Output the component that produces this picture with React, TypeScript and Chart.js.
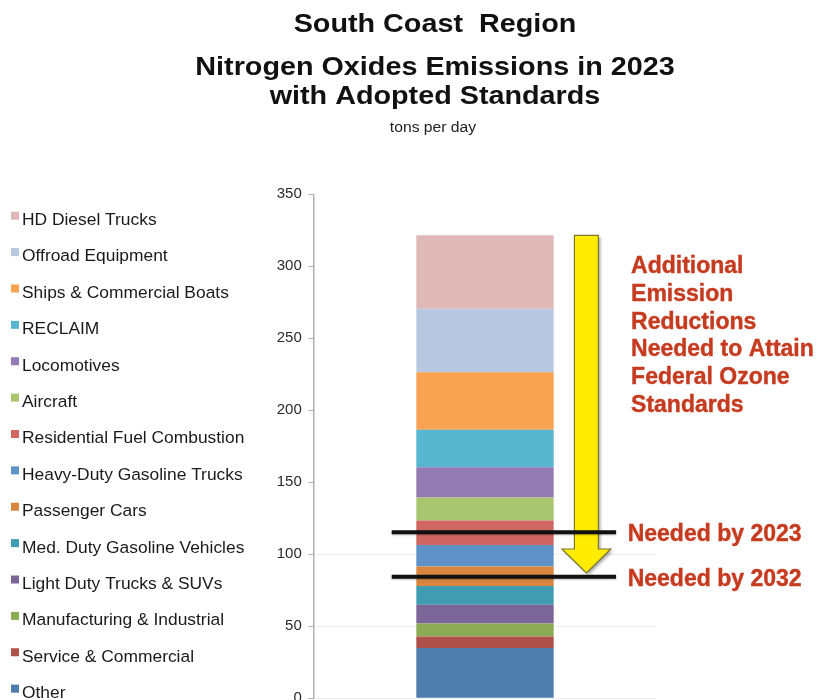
import React, { useEffect, useRef } from "react";
import { Chart, registerables } from "chart.js";

Chart.register(...registerables);

// ---- Data (bottom of stack first) ----
const categories = ["2023"];
const sourceLabels = [
  "Other",
  "Service & Commercial",
  "Manufacturing & Industrial",
  "Light Duty Trucks & SUVs",
  "Med. Duty Gasoline Vehicles",
  "Passenger Cars",
  "Heavy-Duty Gasoline Trucks",
  "Residential Fuel Combustion",
  "Aircraft",
  "Locomotives",
  "RECLAIM",
  "Ships & Commercial Boats",
  "Offroad Equipment",
  "HD Diesel Trucks",
];
const sourceValues = [35, 8, 9, 13, 13, 13.5, 15, 17, 16, 21, 26, 40, 44, 51];
const sourceColors = [
  "#4f7dae",
  "#b0504a",
  "#8daa57",
  "#7b6699",
  "#409cb1",
  "#d9873f",
  "#5f93c8",
  "#cf6662",
  "#a9c56f",
  "#957bb3",
  "#58b7cf",
  "#f9a352",
  "#b8c8e1",
  "#dfb8b8",
];
const titleLines = ["South Coast  Region", "Nitrogen Oxides Emissions in 2023", "with Adopted Standards"];
const subtitleText = "tons per day";
const reductionNote = ["Additional", "Emission", "Reductions", "Needed to Attain", "Federal Ozone", "Standards"];
const targetLabels = ["Needed by 2023", "Needed by 2032"];
const targetValues = [115.3, 84.4];
const arrowEndValue = 87;
const yMin = 0;
const yMax = 350;
const yStep = 50;

const FONT = "'Liberation Sans', Arial, Helvetica, sans-serif";
const RED = "#c63b1f";

const overlayPlugin = {
  id: "overlay",
  afterDatasetsDraw(chart: any) {
    const ctx: CanvasRenderingContext2D = chart.ctx;
    const y = chart.scales.y;
    const n = chart.data.datasets.length;
    const bar: any = chart.getDatasetMeta(n - 1).data[0];
    const barLeft = bar.x - bar.width / 2;
    const barRight = bar.x + bar.width / 2;
    const total = sourceValues.reduce((a, b) => a + b, 0);

    // Yellow arrow
    const cx = barRight + 32.7;
    const shaftHalf = 12;
    const headHalf = 24.5;
    const headLen = 24;
    const yTop = y.getPixelForValue(total);
    const yTip = y.getPixelForValue(arrowEndValue);
    const yBase = yTip - headLen;
    ctx.save();
    ctx.shadowColor = "rgba(0,0,0,0.35)";
    ctx.shadowBlur = 3;
    ctx.shadowOffsetX = 2;
    ctx.shadowOffsetY = 2;
    ctx.beginPath();
    ctx.moveTo(cx - shaftHalf, yTop);
    ctx.lineTo(cx + shaftHalf, yTop);
    ctx.lineTo(cx + shaftHalf, yBase);
    ctx.lineTo(cx + headHalf, yBase);
    ctx.lineTo(cx, yTip);
    ctx.lineTo(cx - headHalf, yBase);
    ctx.lineTo(cx - shaftHalf, yBase);
    ctx.closePath();
    ctx.fillStyle = "#ffec00";
    ctx.fill();
    ctx.shadowColor = "transparent";
    ctx.lineWidth = 1.2;
    ctx.strokeStyle = "#7d7630";
    ctx.stroke();
    ctx.restore();

    // Target lines
    ctx.save();
    ctx.shadowColor = "rgba(0,0,0,0.25)";
    ctx.shadowBlur = 2;
    ctx.shadowOffsetY = 1;
    ctx.strokeStyle = "#111";
    ctx.lineWidth = 4;
    targetValues.forEach((v) => {
      const py = y.getPixelForValue(v);
      ctx.beginPath();
      ctx.moveTo(barLeft - 24.6, py);
      ctx.lineTo(barRight + 62.4, py);
      ctx.stroke();
    });
    ctx.restore();

    // Red texts
    ctx.save();
    ctx.fillStyle = RED;
    ctx.strokeStyle = RED;
    ctx.lineWidth = 0.4;
    ctx.font = `bold 23px ${FONT}`;
    ctx.textAlign = "left";
    ctx.textBaseline = "alphabetic";
    targetValues.forEach((v, i) => {
      const py = y.getPixelForValue(v);
      ctx.fillText(targetLabels[i], barRight + 74, py + 9);
      ctx.strokeText(targetLabels[i], barRight + 74, py + 9);
    });
    reductionNote.forEach((line, i) => {
      const ly = chart.chartArea.top + 79 + i * 27.7;
      ctx.fillText(line, barRight + 77.4, ly);
      ctx.strokeText(line, barRight + 77.4, ly);
    });
    ctx.restore();
  },
  afterDraw(chart: any) {
    const ctx: CanvasRenderingContext2D = chart.ctx;
    // Titles
    const cx = 435;
    const baselines = [31.5, 74.8, 104];
    ctx.save();
    ctx.fillStyle = "#111";
    ctx.textAlign = "center";
    ctx.textBaseline = "alphabetic";
    ctx.font = `bold 25px ${FONT}`;
    titleLines.forEach((line, i) => {
      ctx.save();
      ctx.translate(cx, baselines[i]);
      ctx.scale(1.15, 1);
      ctx.fillText(line, 0, 0);
      ctx.restore();
    });
    ctx.font = `14px ${FONT}`;
    ctx.fillStyle = "#222";
    ctx.save();
    ctx.translate(433, 132);
    ctx.scale(1.12, 1);
    ctx.fillText(subtitleText, 0, 0);
    ctx.restore();
    ctx.restore();

    // Legend (top item = last dataset)
    const ds = chart.data.datasets;
    ctx.save();
    ctx.font = `17.4px ${FONT}`;
    ctx.textAlign = "left";
    ctx.textBaseline = "alphabetic";
    for (let k = 0; k < ds.length; k++) {
      const d = ds[ds.length - 1 - k];
      const cy = 219 + k * 36.38;
      ctx.fillStyle = d.backgroundColor;
      ctx.fillRect(11, cy - 7.3, 8, 8);
      ctx.fillStyle = "#1a1a1a";
      ctx.fillText(d.label, 22, cy + 6.1);
    }
    ctx.restore();
  },
};

export default function App() {
  const canvasRef = useRef<HTMLCanvasElement | null>(null);

  useEffect(() => {
    if (!canvasRef.current) return;
    const chart = new Chart(canvasRef.current, {
      type: "bar",
      data: {
        labels: categories,
        datasets: sourceLabels.map((label, i) => ({
          label,
          data: [sourceValues[i]],
          backgroundColor: sourceColors[i],
          borderWidth: 0,
          categoryPercentage: 1,
          barPercentage: 0.4,
        })),
      },
      options: {
        responsive: false,
        animation: false,
        devicePixelRatio: 1,
        layout: {
          padding: { left: 263.3, right: 161.3, top: 194.3, bottom: 41.7 },
        },
        plugins: {
          legend: { display: false },
          title: { display: false },
          tooltip: { enabled: false },
        },
        scales: {
          x: {
            stacked: true,
            display: false,
          },
          y: {
            stacked: true,
            min: yMin,
            max: yMax,
            afterFit: (scale: any) => {
              scale.width = 50;
            },
            ticks: {
              stepSize: yStep,
              padding: 6.5,
              color: "#2a2a2a",
              font: { family: FONT, size: 15 },
            },
            grid: {
              color: (c: any) => (c.tick && c.tick.value <= 100 ? "#ececec" : "rgba(0,0,0,0)"),
              tickColor: "#b0b0b0",
              tickLength: 5,
              lineWidth: 1,
            },
            border: { color: "#b0b0b0", width: 1.5 },
          },
        },
      },
      plugins: [overlayPlugin],
    });
    return () => chart.destroy();
  }, []);

  return (
    <div
      style={{
        position: "absolute",
        left: 0,
        top: 0,
        width: 818,
        height: 700,
        overflow: "hidden",
        background: "#fff",
      }}
    >
      <canvas ref={canvasRef} width={818} height={740} style={{ width: 818, height: 740, display: "block" }} />
    </div>
  );
}
